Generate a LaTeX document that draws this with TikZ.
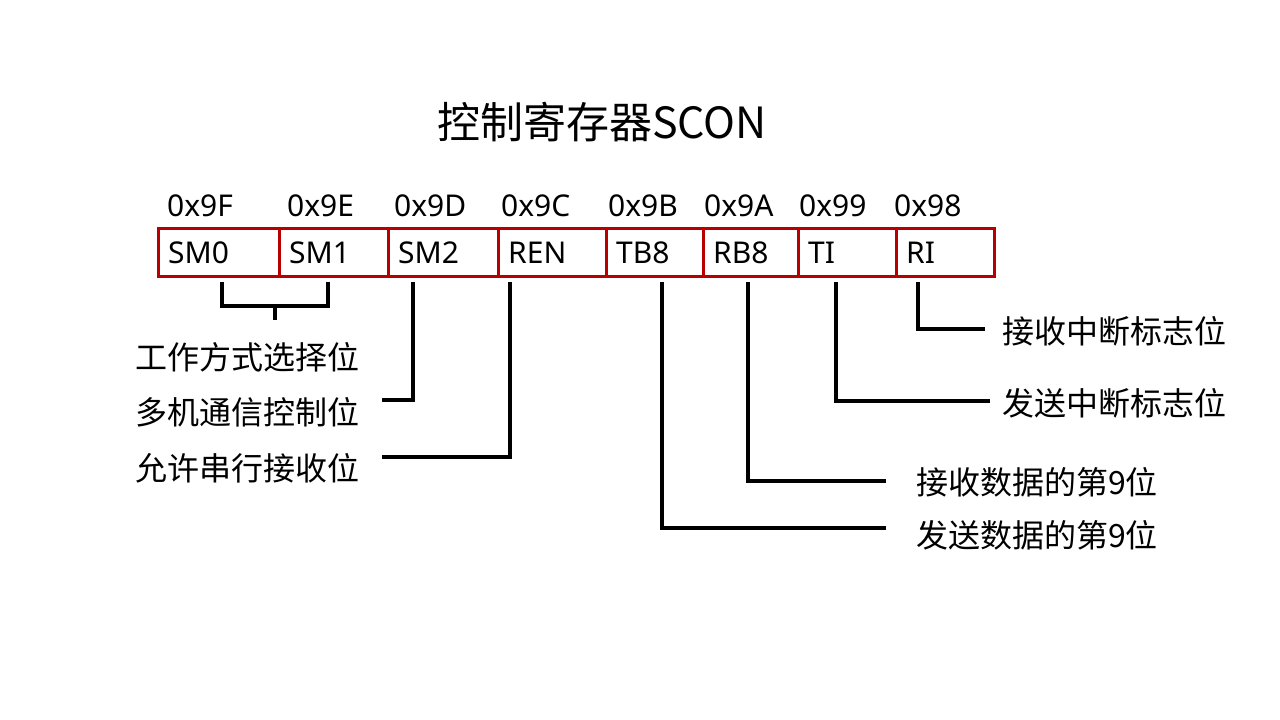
\documentclass[tikz,border=0pt]{standalone}
\usepackage{fontspec}
\setmainfont{Noto Sans}
\newfontfamily\cjk{Noto Sans CJK SC}
\definecolor{boxred}{RGB}{185,0,0}
\begin{document}
\begin{tikzpicture}[x=1pt,y=-1pt,
  cell/.style={draw=boxred, line width=3pt, minimum height=48pt, inner sep=0pt, outer sep=0pt, anchor=north west},
  cellname/.style={anchor=base west, inner sep=0pt, font=\fontsize{30}{36}\selectfont},
  hex/.style={anchor=base west, inner sep=0pt, font=\fontsize{30}{36}\selectfont},
  lbl/.style={anchor=west, inner sep=0pt, font=\cjk\fontsize{32}{38}\selectfont},
  conn/.style={line width=3.5pt, black}]
\useasboundingbox[fill=white] (0,0) rectangle (1280,720);

\node[font=\cjk\fontsize{43}{51}\selectfont, inner sep=0pt] (title) at (602,122) {控制寄存器SCON};

% register cells
\node[cell, minimum width=121pt] (c0) at (158,228) {};
\node[cell, minimum width=109pt] (c1) at (279,228) {};
\node[cell, minimum width=110pt] (c2) at (388,228) {};
\node[cell, minimum width=108pt] (c3) at (498,228) {};
\node[cell, minimum width=97pt]  (c4) at (606,228) {};
\node[cell, minimum width=95pt]  (c5) at (703,228) {};
\node[cell, minimum width=98pt]  (c6) at (798,228) {};
\node[cell, minimum width=98pt]  (c7) at (896,228) {};

\node[cellname] (n0) at (168,263) {SM0};
\node[cellname] (n1) at (289,263) {SM1};
\node[cellname] (n2) at (398,263) {SM2};
\node[cellname] (n3) at (508,263) {REN};
\node[cellname] (n4) at (616,263) {TB8};
\node[cellname] (n5) at (713,263) {RB8};
\node[cellname] (n6) at (808,263) {TI};
\node[cellname] (n7) at (906,263) {RI};

% addresses
\node[hex] (h0) at (167,216) {0x9F};
\node[hex] (h1) at (287,216) {0x9E};
\node[hex] (h2) at (394,216) {0x9D};
\node[hex] (h3) at (501,216) {0x9C};
\node[hex] (h4) at (608,216) {0x9B};
\node[hex] (h5) at (704,216) {0x9A};
\node[hex] (h6) at (799,216) {0x99};
\node[hex] (h7) at (894,216) {0x98};

% labels
\node[lbl] (l01) at (135,357) {工作方式选择位};
\node[lbl] (l2)  at (135,412) {多机通信控制位};
\node[lbl] (l3)  at (135,468) {允许串行接收位};
\node[lbl] (l4)  at (916,535) {发送数据的第9位};
\node[lbl] (l5)  at (916,482) {接收数据的第9位};
\node[lbl] (l6)  at (1002,403) {发送中断标志位};
\node[lbl] (l7)  at (1002,331) {接收中断标志位};

% connector coordinates
\coordinate (t0) at (222,282);
\coordinate (t1) at (328,282);
\coordinate (t2) at (413,282);
\coordinate (t3) at (510,282);
\coordinate (t4) at (662,282);
\coordinate (t5) at (748,282);
\coordinate (t6) at (836,282);
\coordinate (t7) at (918,282);
\coordinate (bm) at (275,306);
\coordinate (e01) at (275,320);
\coordinate (e2) at (382,400);
\coordinate (e3) at (382,457);
\coordinate (e4) at (886,528);
\coordinate (e5) at (886,481);
\coordinate (e6) at (990,401);
\coordinate (e7) at (985,329);

\draw[conn] (t0) |- (bm) -| (t1);
\draw[conn] (bm) -- (e01);
\draw[conn] (t2) |- (e2);
\draw[conn] (t3) |- (e3);
\draw[conn] (t4) |- (e4);
\draw[conn] (t5) |- (e5);
\draw[conn] (t6) |- (e6);
\draw[conn] (t7) |- (e7);
\end{tikzpicture}
\end{document}
